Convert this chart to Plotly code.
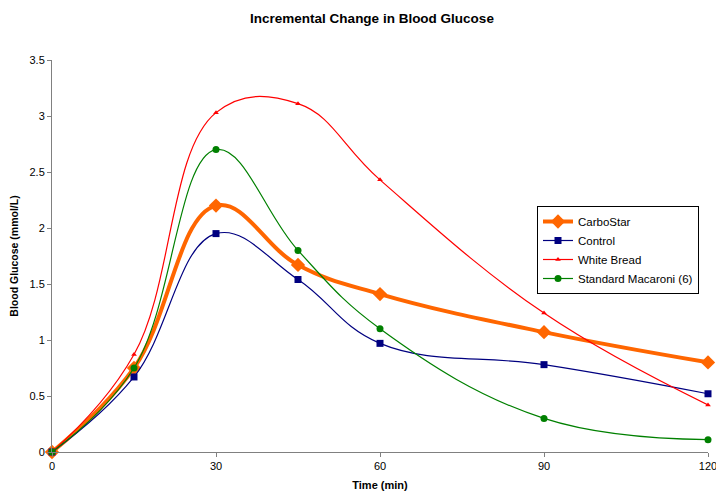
import plotly.graph_objects as go

time_min = [0, 15, 30, 45, 60, 90, 120]
carbostar = [0, 0.75, 2.20, 1.67, 1.41, 1.07, 0.80]
control = [0, 0.67, 1.95, 1.54, 0.97, 0.78, 0.52]
white_bread = [0, 0.87, 3.03, 3.11, 2.43, 1.24, 0.42]
macaroni = [0, 0.75, 2.70, 1.80, 1.10, 0.30, 0.11]

x_ticks = [0, 30, 60, 90, 120]
y_ticks = [0, 0.5, 1, 1.5, 2, 2.5, 3, 3.5]

FONT = "Liberation Sans, Arial, sans-serif"
SM = 1.15

fig = go.Figure()
fig.add_trace(go.Scatter(x=time_min, y=carbostar, name="CarboStar", mode="lines+markers",
                         line=dict(color="#FF6600", width=4, shape="spline", smoothing=SM),
                         marker=dict(symbol="diamond", size=11, color="#FF6600")))
fig.add_trace(go.Scatter(x=time_min, y=control, name="Control", mode="lines+markers",
                         line=dict(color="#000080", width=1.2, shape="spline", smoothing=SM),
                         marker=dict(symbol="square", size=7, color="#000080")))
fig.add_trace(go.Scatter(x=time_min, y=white_bread, name="White Bread", mode="lines+markers",
                         line=dict(color="#FF0000", width=1.2, shape="spline", smoothing=SM),
                         marker=dict(symbol="triangle-up", size=5, color="#FF0000")))
fig.add_trace(go.Scatter(x=time_min, y=macaroni, name="Standard Macaroni (6)", mode="lines+markers",
                         line=dict(color="#008000", width=1.2, shape="spline", smoothing=SM),
                         marker=dict(symbol="circle", size=7, color="#008000")))

fig.update_layout(
    width=716, height=491,
    paper_bgcolor="white", plot_bgcolor="white",
    margin=dict(l=52, r=8, t=60, b=39, autoexpand=False),
    font=dict(family=FONT, size=11, color="black"),
    title=dict(text="<b>Incremental Change in Blood Glucose</b>", x=372 / 716, xref="container",
               xanchor="center", y=1 - 18 / 491, yanchor="middle", font=dict(size=13.5, family=FONT)),
    showlegend=True,
    legend=dict(x=(537 - 52) / 656, xref="paper", y=(452 - 206) / 392, yref="paper",
                xanchor="left", yanchor="top",
                bordercolor="black", borderwidth=1, bgcolor="white",
                font=dict(size=11.5, family=FONT), tracegroupgap=0, itemwidth=30),
    xaxis=dict(range=[0, 120], tickvals=x_ticks, ticks="outside", ticklen=4, tickcolor="#808080",
               showline=True, linecolor="#808080", linewidth=1, showgrid=False, zeroline=False,
               automargin=False, ticklabeloverflow="allow",
               title=dict(text="<b>Time (min)</b>", font=dict(size=11), standoff=16),
               tickfont=dict(size=11)),
    yaxis=dict(range=[0, 3.5], tickvals=y_ticks, ticks="outside", ticklen=4, tickcolor="#808080",
               showline=True, linecolor="#808080", linewidth=1, showgrid=False, zeroline=False,
               automargin=False, ticklabeloverflow="allow",
               title=dict(text="<b>Blood Glucose (mmol/L)</b>", font=dict(size=10.5), standoff=8),
               tickfont=dict(size=11)),
)
fig.update_traces(cliponaxis=False)
fig.write_html("out.html")
